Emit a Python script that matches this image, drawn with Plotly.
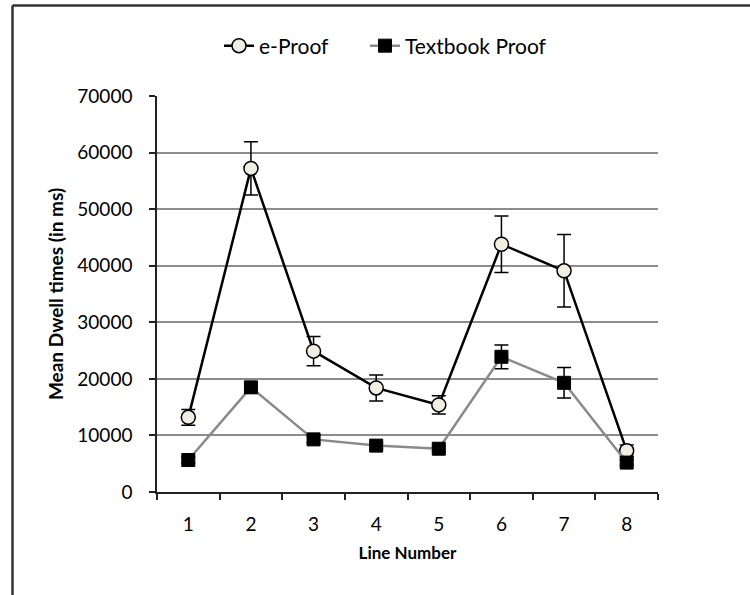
import plotly.graph_objects as go

line_numbers = ["1", "2", "3", "4", "5", "6", "7", "8"]
eproof_mean = [13200, 57200, 24900, 18400, 15400, 43800, 39100, 7300]
eproof_err = [1400, 4700, 2600, 2300, 1600, 5000, 6400, 1000]
textbook_mean = [5650, 18500, 9300, 8200, 7650, 23900, 19300, 5200]
textbook_err = [500, 1000, 600, 500, 500, 2100, 2700, 500]
y_ticks = [0, 10000, 20000, 30000, 40000, 50000, 60000, 70000]

FONT = "Lato"

fig = go.Figure()
fig.add_trace(go.Scatter(
    x=line_numbers, y=eproof_mean, name="e-Proof", mode="lines+markers", legend="legend",
    line=dict(color="black", width=2.5),
    marker=dict(symbol="circle", size=14, color="#eeeee2", line=dict(color="black", width=1.5)),
    error_y=dict(type="data", array=eproof_err, visible=True, color="black", thickness=1.5, width=7),
))
fig.add_trace(go.Scatter(
    x=line_numbers, y=textbook_mean, name="Textbook Proof", mode="lines+markers", legend="legend2",
    line=dict(color="#8a8a8a", width=2.5),
    marker=dict(symbol="square", size=13, color="black", line=dict(color="black", width=1)),
    error_y=dict(type="data", array=textbook_err, visible=True, color="black", thickness=1.5, width=7),
))

L, R, T, B = 157, 92, 96, 103
W, H = 750, 595
pw, ph = W - L - R, H - T - B

def px_x(p):
    return (p - L) / pw

def px_y(p):
    return (H - B - p) / ph

leg_common = dict(orientation="h", yanchor="middle", y=px_y(46), xanchor="left",
                  font=dict(family=FONT, size=21, color="black"), itemwidth=30,
                  bgcolor="rgba(0,0,0,0)")

fig.update_layout(
    width=W, height=H,
    margin=dict(l=L, r=R, t=T, b=B, pad=0),
    paper_bgcolor="white", plot_bgcolor="white",
    font=dict(family=FONT, size=19, color="black"),
    showlegend=True,
    legend=dict(x=px_x(219), **leg_common),
    legend2=dict(x=px_x(365), **leg_common),
    xaxis=dict(
        type="category", range=[-0.5, 7.5], tickson="boundaries",
        ticks="outside", ticklen=6, tickwidth=1.5, tickcolor="#222",
        showline=True, linecolor="#222", linewidth=1.5,
        showgrid=False, zeroline=False, ticklabelstandoff=14,
        tickfont=dict(family=FONT, size=19, color="black"),
        title=dict(text="<b>Line Number</b>", font=dict(family=FONT, size=17, color="black"), standoff=14),
    ),
    yaxis=dict(
        range=[0, 70000], tickmode="array", tickvals=y_ticks, ticktext=[str(v) for v in y_ticks],
        ticks="outside", ticklen=6, tickwidth=1.5, tickcolor="#222",
        showline=True, linecolor="#222", linewidth=1.5, ticklabelstandoff=13,
        showgrid=True, gridcolor="#8c8c8c", gridwidth=1.5, zeroline=False,
        tickfont=dict(family=FONT, size=19, color="black"),
        title=dict(text="<b>Mean Dwell times (in ms)</b>", font=dict(family=FONT, size=19, color="black"), standoff=9),
    ),
    shapes=[
        dict(type="line", xref="paper", yref="paper", x0=px_x(12.5), x1=px_x(760), y0=px_y(5.5), y1=px_y(5.5),
             line=dict(color="#333", width=2.5)),
        dict(type="line", xref="paper", yref="paper", x0=px_x(12.5), x1=px_x(12.5), y0=px_y(5.5), y1=px_y(605),
             line=dict(color="#333", width=2.5)),
    ],
)

fig.write_html("out.html")
